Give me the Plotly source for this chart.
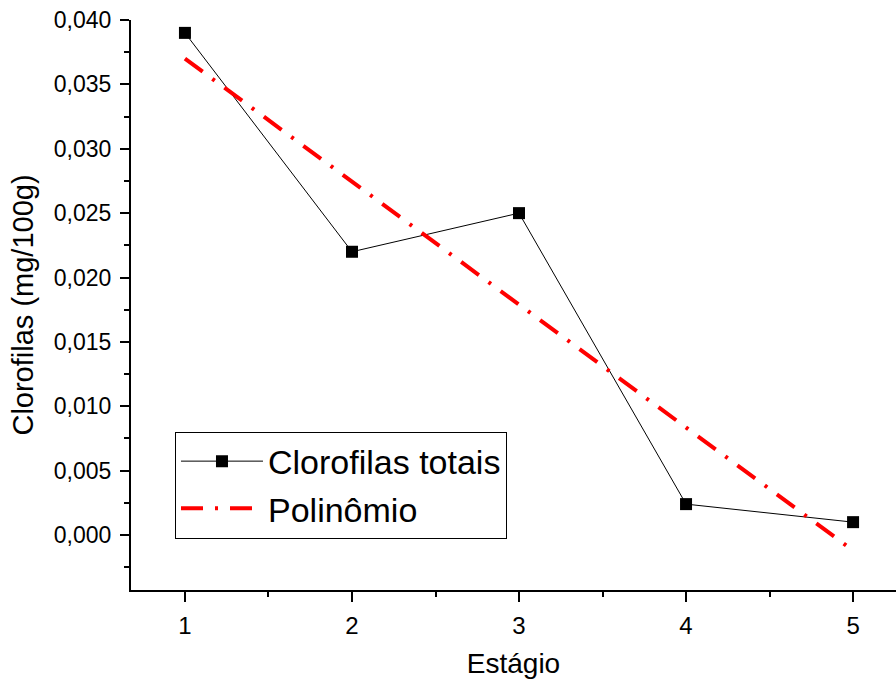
import plotly.graph_objects as go

estagio = [1, 2, 3, 4, 5]
clorofilas = [0.039, 0.022, 0.025, 0.0024, 0.001]
fit_x = [1, 5]
fit_y = [0.0370, -0.0012]
yticks = [0.000, 0.005, 0.010, 0.015, 0.020, 0.025, 0.030, 0.035, 0.040]

fig = go.Figure()
fig.add_trace(go.Scatter(
    x=estagio, y=clorofilas, mode="lines+markers", name="Clorofilas totais",
    line=dict(color="black", width=1),
    marker=dict(symbol="square", size=12, color="black"),
))
fig.add_trace(go.Scatter(
    x=fit_x, y=fit_y, mode="lines", name="Polinômio",
    line=dict(color="#ff0000", width=4, dash="22px,12px,3px,12px"),
))

font = "Liberation Sans, Arial, sans-serif"
fig.update_layout(
    width=896, height=686,
    margin=dict(l=131, r=0, t=20, b=96),
    paper_bgcolor="white", plot_bgcolor="white",
    separators=",.",
    font=dict(family=font, color="black"),
    showlegend=True,
    legend=dict(
        x=0.0575, y=0.2780, xanchor="left", yanchor="top",
        bordercolor="black", borderwidth=1, bgcolor="white",
        font=dict(size=34, family=font), tracegroupgap=0,
        itemwidth=82,
    ),
    xaxis=dict(
        range=[0.677, 5.257], tickvals=estagio, ticktext=[str(v) for v in estagio],
        ticks="outside", ticklen=10, tickwidth=1.5,
        showline=True, linecolor="black", linewidth=2, showgrid=False, zeroline=False,
        tickfont=dict(size=24, family=font), ticklabelstandoff=3,
        title=dict(text="Estágio", font=dict(size=28), standoff=16),
        minor=dict(ticks="outside", ticklen=5, dtick=0.5, tickcolor="black", tickwidth=1.5),
        tickcolor="black",
    ),
    yaxis=dict(
        range=[-0.00427, 0.040], tickvals=yticks, tickformat=".3f", ticks="outside",
        ticklen=9, tickwidth=1.5, tickcolor="black",
        showline=True, linecolor="black", linewidth=2, showgrid=False, zeroline=False,
        tickfont=dict(size=23), ticklabelstandoff=4,
        title=dict(text="Clorofilas (mg/100g)", font=dict(size=29), standoff=12),
        minor=dict(ticks="outside", ticklen=5, dtick=0.0025, tickcolor="black", tickwidth=1.5),
    ),
)
fig.write_html("out.html")
